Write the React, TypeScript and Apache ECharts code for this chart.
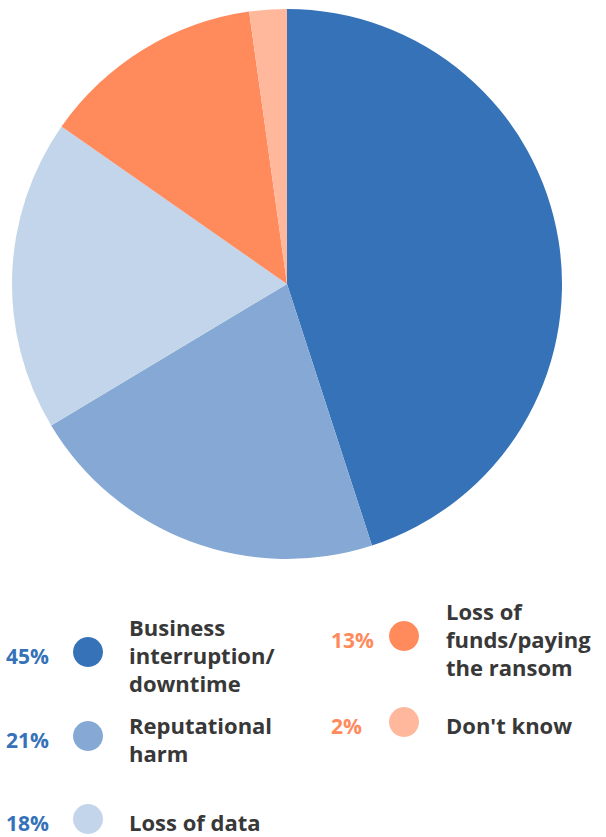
import React, { useEffect, useRef } from "react";
import * as echarts from "echarts";

const categories = [
  "Business\ninterruption/\ndowntime",
  "Reputational\nharm",
  "Loss of data",
  "Loss of\nfunds/paying\nthe ransom",
  "Don't know",
];
const values = [45, 21.4, 18.3, 13.1, 2.2];
const percentLabels = ["45%", "21%", "18%", "13%", "2%"];
const sliceColors = ["#3572b8", "#85a9d4", "#c3d5ea", "#ff8a5c", "#ffb89c"];
const percentColors = ["#3572b8", "#3572b8", "#3572b8", "#ff8a5c", "#ff8a5c"];

// legend layout: [percentX, circleX, labelX, centerY]
const legendLayout = [
  [6, 88, 129, 655],
  [6, 88, 129, 739],
  [6, 88, 129, 822],
  [331, 404, 446, 639],
  [331, 404, 446, 725],
];

const FONT = "'Open Sans', Lato, sans-serif";
const LINE_H = 28;

export default function App() {
  const ref = useRef<HTMLDivElement>(null);
  useEffect(() => {
    document.body.style.margin = "0";
    const chart = echarts.init(ref.current!, null, { renderer: "svg" });
    const graphic: any[] = [];
    categories.forEach((c, i) => {
      const [px, cx, lx, cy] = legendLayout[i];
      graphic.push({
        type: "text",
        x: px,
        y: cy + 1,
        style: {
          text: percentLabels[i],
          fill: percentColors[i],
          font: `700 21px ${FONT}`,
          textVerticalAlign: "middle",
          textAlign: "left",
        },
      });
      graphic.push({
        type: "circle",
        shape: { cx, cy: cy - 3, r: 15 },
        style: { fill: sliceColors[i] },
      });
      const lines = c.split("\n");
      const top = cy - ((lines.length - 1) * LINE_H) / 2;
      lines.forEach((ln, k) => {
        graphic.push({
          type: "text",
          x: lx,
          y: top + k * LINE_H,
          style: {
            text: ln,
            fill: "#383838",
            font: `700 22px ${FONT}`,
            textVerticalAlign: "middle",
            textAlign: "left",
          },
        });
      });
    });
    chart.setOption({
      animation: false,
      backgroundColor: "#ffffff",
      graphic,
      series: [
        {
          type: "pie",
          center: [287, 284],
          radius: [0, 275],
          startAngle: 90,
          clockwise: true,
          label: { show: false },
          labelLine: { show: false },
          silent: true,
          data: values.map((v, i) => ({
            name: categories[i].replace(/\n/g, " "),
            value: v,
            itemStyle: { color: sliceColors[i] },
          })),
        },
      ],
    });
    return () => chart.dispose();
  }, []);
  return <div ref={ref} style={{ width: 606, height: 837 }} />;
}
